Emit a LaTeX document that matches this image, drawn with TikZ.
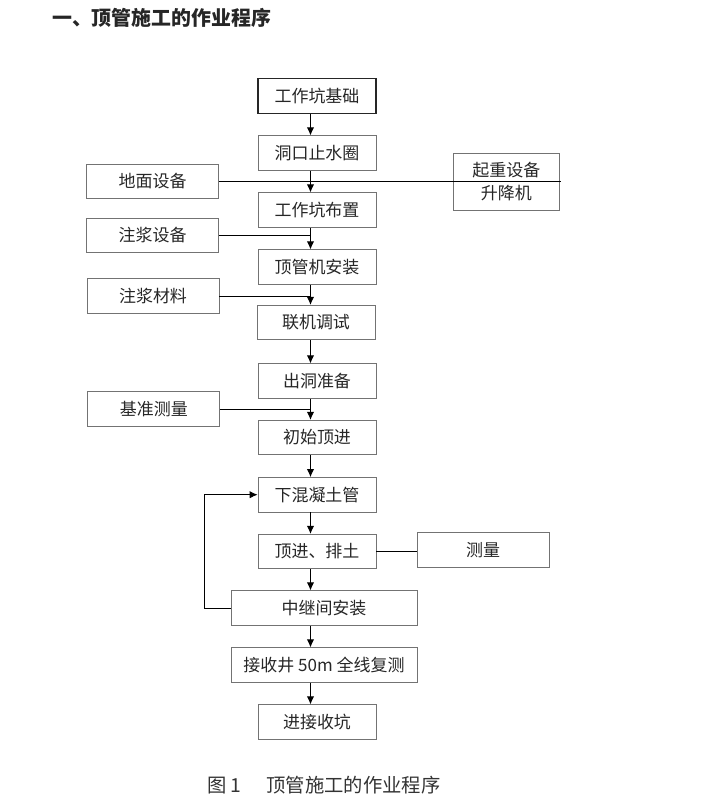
\documentclass[tikz,border=0pt]{standalone}
\usepackage{fontspec}
\setmainfont{Noto Sans CJK SC}
\usetikzlibrary{arrows.meta}
\usetikzlibrary{positioning}

\tikzset{
  stepbox/.style={draw=black!55,line width=0.6pt,minimum width=3.54cm,minimum height=1.035cm,inner sep=0pt,text=black!85,font=\fontsize{14.5}{19}\selectfont},
  widebox/.style={stepbox,minimum width=5.58cm},
  sidebox/.style={stepbox,minimum width=3.96cm},
  flow/.style={-{Latex[length=2.4mm,width=2.2mm]},line width=0.8pt},
  feed/.style={line width=0.8pt}
}

\begin{document}
\begin{tikzpicture}[x=0.03cm,y=-0.03cm]
        \useasboundingbox (0,0) rectangle (724,801);

        \node[anchor=west,font=\fontsize{17}{20}\selectfont\bfseries,text=black!85] (title) at (48,18) {一、顶管施工的作业程序};

        % main column
        \node[stepbox,draw=black!85,line width=1pt] (jc) at (317,96) {工作坑基础};
        \node[stepbox] (dk) at (317,153) {洞口止水圈};
        \node[stepbox] (bz) at (317,210) {工作坑布置};
        \node[stepbox] (az) at (317,267) {顶管机安装};
        \node[stepbox] (ts) at (316,322.5) {联机调试};
        \node[stepbox] (cd) at (317,381) {出洞准备};
        \node[stepbox] (cs) at (317,437.5) {初始顶进};
        \node[stepbox] (xh) at (317,494.7) {下混凝土管};
        \node[stepbox] (pt) at (317,551.5) {顶进、排土};
        \node[widebox] (zj) at (324,608) {中继间安装};
        \node[widebox] (fc) at (324,665) {接收井 50m 全线复测};
        \node[stepbox] (jk) at (317,722) {进接收坑};

        % side boxes
        \node[sidebox] (dm) at (152.7,181.5) {地面设备};
        \node[sidebox] (zs) at (152.7,235.5) {注浆设备};
        \node[sidebox] (zl) at (153,296) {注浆材料};
        \node[sidebox] (jz) at (153.8,409) {基准测量};
        \node[stepbox,minimum width=3.18cm,minimum height=1.71cm,align=center] (qz) at (506.3,181.5) {起重设备\\升降机};
        \node[sidebox] (cl) at (483,550) {测量};

        \coordinate (spine) at (310.5,0);

        \foreach \a/\b in {jc/dk,dk/bz,bz/az,az/ts,ts/cd,cd/cs,cs/xh,xh/pt,pt/zj,zj/fc,fc/jk}
            \draw[flow] (\a.south -| spine) -- (\b.north -| spine);

        \draw[feed] (dm.east) -- ([xshift=1.5]qz.east);
        \foreach \s in {zs,zl,jz}
            \draw[feed] (\s.east) -- (\s.east -| spine);
        \draw[feed] (pt.east) -- (pt.east -| cl.west);

        \draw[flow] (zj.west) -- ++(-26,0) |- (xh.west);

        \node[anchor=west,font=\fontsize{16.5}{20}\selectfont,text=black!80] (cap) at (203,785) {图 1\hspace{1.3em}顶管施工的作业程序};
\end{tikzpicture}
\end{document}
